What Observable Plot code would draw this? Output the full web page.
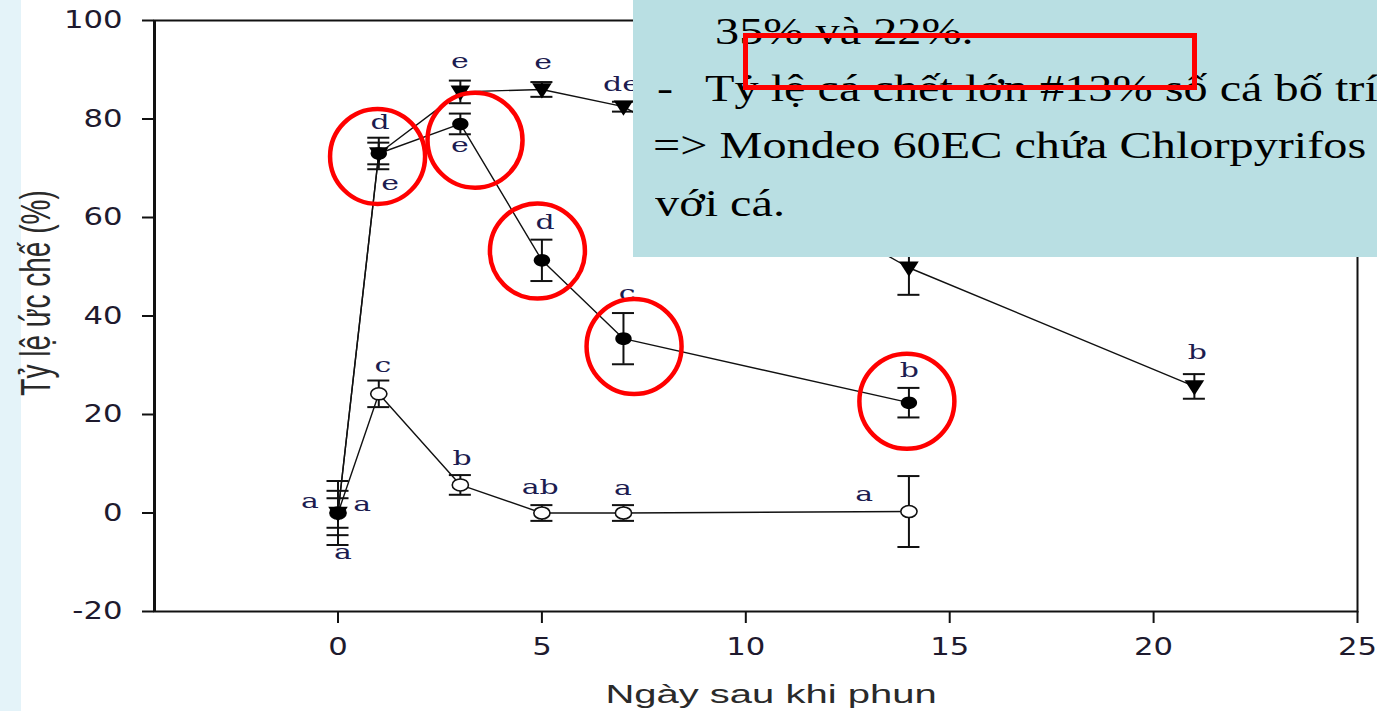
<!DOCTYPE html>
<html>
<head>
<meta charset="utf-8">
<script src="https://cdn.jsdelivr.net/npm/d3@7"></script>
<script src="https://cdn.jsdelivr.net/npm/@observablehq/plot@0.6"></script>
<style>
html,body{margin:0;padding:0;background:#fff;width:1377px;height:711px;overflow:hidden;}
#strip{position:absolute;left:0;top:0;width:21px;height:711px;background:#e4f3f9;}
#chart{position:absolute;left:0;top:0;width:1377px;height:711px;}
#box{position:absolute;left:633px;top:0;width:744px;height:257px;background:#b9dfe3;overflow:hidden;
  font-family:"Liberation Serif","Times New Roman",serif;font-size:38px;color:#000;}
.ln{position:absolute;white-space:nowrap;transform-origin:0 0;transform:scaleX(1.27);line-height:1;}
#redbox{position:absolute;left:743px;top:33px;width:454px;height:57px;border:5px solid #f00;box-sizing:border-box;}
</style>
</head>
<body>
<div id="strip"></div>
<div id="chart"></div>
<div id="box">
  <div class="ln" style="left:82px;top:12px;">35% và 22%.</div>
  <div class="ln" style="left:24px;top:69px;">-</div>
  <div class="ln" style="left:72px;top:69px;">Tỷ lệ cá chết lớn #13% số cá bố trí</div>
  <div class="ln" style="left:20px;top:126px;">=&gt; Mondeo 60EC chứa Chlorpyrifos là</div>
  <div class="ln" style="left:22px;top:184px;">với cá.</div>
</div>
<div id="redbox"></div>
<script>
// ---------------- data ----------------
const xTicks = [0, 5, 10, 15, 20, 25];
const yTicks = [-20, 0, 20, 40, 60, 80, 100];
const xLabel = "Ngày sau khi phun";
const yLabel = "Tỷ lệ ức chế (%)";

// series A: filled circles
const daysA = [0, 1, 3, 5, 7, 14];
const valuesA = [0, 73, 79, 51.3, 35.4, 22.4];
const errorsA = [6.5, 3.2, 2.1, 4.2, 5.2, 3];

// series B: open circles
const daysB = [0, 1, 3, 5, 7, 14];
const valuesB = [0, 24.2, 5.7, 0, 0, 0.3];
const errorsB = [4.5, 2.7, 2, 1.6, 1.6, 7.2];

// series C: filled down-triangles
const daysC = [0, 1, 3, 5, 7, 14, 21];
const valuesC = [0, 73, 85.5, 86, 82.5, 49.8, 25.7];
const errorsC = [3, 2.2, 2.3, 1.5, 1, 5.5, 2.5];

// significance letters
const letterText = ["a", "a", "a", "d", "e", "c", "e", "e", "b", "e", "d", "ab", "de", "c", "a", "b", "a", "b"];
const letterX = [-0.69, 0.59, 0.12, 1.03, 1.28, 1.10, 2.99, 2.99, 3.04, 5.03, 5.08, 4.96, 6.95, 7.09, 6.99, 14.01, 12.9, 21.07];
const letterY = [2.4, 1.8, -8.1, 79.3, 66.9, 29.9, 91.6, 74.5, 11.0, 91.4, 59.0, 5.1, 87.0, 44.6, 4.9, 28.9, 3.7, 32.6];

// red highlight circles (annotation)
const ringX = [0.97, 3.36, 4.89, 7.26, 13.95];
const ringY = [72.4, 75.7, 53.2, 33.8, 22.7];

// ---------------- build tables ----------------
const rows = [];
function addSeries(name, xs, ys, es) {
  xs.forEach((x, i) => rows.push({series: name, day: x, value: ys[i], err: es[i]}));
}
addSeries("A", daysA, valuesA, errorsA);
addSeries("B", daysB, valuesB, errorsB);
addSeries("C", daysC, valuesC, errorsC);
const rowsA = rows.filter(d => d.series === "A");
const rowsB = rows.filter(d => d.series === "B");
const rowsC = rows.filter(d => d.series === "C");
const letters = letterText.map((t, i) => ({t, x: letterX[i], y: letterY[i]}));
const rings = ringX.map((x, i) => ({x, y: ringY[i]}));

const cap = 0.27;

function ellipseSymbol(sx) {
  return {draw(ctx, size) {
    const r = Math.sqrt(size / Math.PI), a = r * sx, b = r, k = 0.5523;
    ctx.moveTo(a, 0);
    ctx.bezierCurveTo(a, k * b, k * a, b, 0, b);
    ctx.bezierCurveTo(-k * a, b, -a, k * b, -a, 0);
    ctx.bezierCurveTo(-a, -k * b, -k * a, -b, 0, -b);
    ctx.bezierCurveTo(k * a, -b, a, -k * b, a, 0);
    ctx.closePath();
  }};
}
const triDown = {draw(ctx, size) {
  const r = Math.sqrt(size / Math.PI);
  ctx.moveTo(-1.4 * r, -0.9 * r);
  ctx.lineTo(1.4 * r, -0.9 * r);
  ctx.lineTo(0, 1.3 * r);
  ctx.closePath();
}};

const xDomain = [-4.5, 25];

const svg = Plot.plot({
  width: 1377,
  height: 711,
  marginLeft: 154,
  marginRight: 20,
  marginTop: 20,
  marginBottom: 100,
  style: {background: "transparent", overflow: "visible", fontFamily: "DejaVu Sans"},
  x: {domain: xDomain},
  y: {domain: [-20, 100]},
  marks: [
    Plot.frame({stroke: "#111", strokeWidth: 2}),
    Plot.ruleX([xDomain[0]], {stroke: "#111", strokeWidth: 3}),
    Plot.axisX({ticks: xTicks, tickSize: 12, tickPadding: 14, strokeWidth: 2, stroke: "#111",
      tickFormat: d => `${d}`, label: null, fontSize: 24, fill: "#1e1a2e"}),
    Plot.axisY({ticks: yTicks, tickSize: 12, tickPadding: 20, strokeWidth: 2, stroke: "#111",
      tickFormat: d => `${d}`, label: null, fontSize: 24, fill: "#1e1a2e"}),
    Plot.line(rows, {x: "day", y: "value", z: "series", stroke: "#111", strokeWidth: 1.4}),
    Plot.ruleX(rows, {x: "day", y1: d => d.value - d.err, y2: d => d.value + d.err, stroke: "#111", strokeWidth: 2}),
    Plot.ruleY(rows, {y: d => d.value + d.err, x1: d => d.day - cap, x2: d => d.day + cap, stroke: "#111", strokeWidth: 2}),
    Plot.ruleY(rows, {y: d => d.value - d.err, x1: d => d.day - cap, x2: d => d.day + cap, stroke: "#111", strokeWidth: 2}),
    Plot.dot(rowsB, {x: "day", y: "value", r: 6, symbol: ellipseSymbol(1.35), fill: "#fff", stroke: "#111", strokeWidth: 1.6}),
    Plot.dot(rowsC, {x: "day", y: "value", r: 7, symbol: triDown, fill: "#000", stroke: "none"}),
    Plot.dot(rowsA, {x: "day", y: "value", r: 6.3, symbol: ellipseSymbol(1.3), fill: "#000", stroke: "none"}),
    Plot.text(letters, {x: "x", y: "y", text: "t", fontFamily: "DejaVu Serif", fontSize: 20, fill: "#1c1c50"}),
    Plot.dot(rings, {x: "x", y: "y", r: 47.5, fill: "none", stroke: "#ff0000", strokeWidth: 4.5})
  ]
});

document.getElementById("chart").appendChild(svg);

// horizontal stretch of text glyphs, as in the reference image
function stretch(nodes, sx) {
  nodes.forEach(t => {
    let tr = t.getAttribute("transform") || "";
    const x = t.getAttribute("x");
    if (x !== null && x !== "" && !isNaN(parseFloat(x))) {
      tr += ` translate(${parseFloat(x)},0)`;
      t.removeAttribute("x");
    }
    t.setAttribute("transform", tr + ` scale(${sx},1)`);
  });
}
stretch(svg.querySelectorAll('g[aria-label="x-axis tick label"] text'), 1.28);
stretch(svg.querySelectorAll('g[aria-label="y-axis tick label"] text'), 1.28);
stretch(svg.querySelectorAll('g[aria-label="text"] text'), 1.5);

// axis titles
const s = d3.select(svg);
s.append("text")
  .attr("transform", "translate(771,703) scale(1.6,1)")
  .attr("text-anchor", "middle")
  .attr("font-family", "Liberation Sans, Arial, sans-serif")
  .attr("font-size", 25)
  .attr("fill", "#2a2a2a")
  .text(xLabel);
s.append("text")
  .attr("transform", "translate(50,293) rotate(-90) scale(1,1.55)")
  .attr("text-anchor", "middle")
  .attr("font-family", "Liberation Sans, Arial, sans-serif")
  .attr("font-size", 28)
  .attr("fill", "#2a2a2a")
  .text(yLabel);
</script>
</body>
</html>
